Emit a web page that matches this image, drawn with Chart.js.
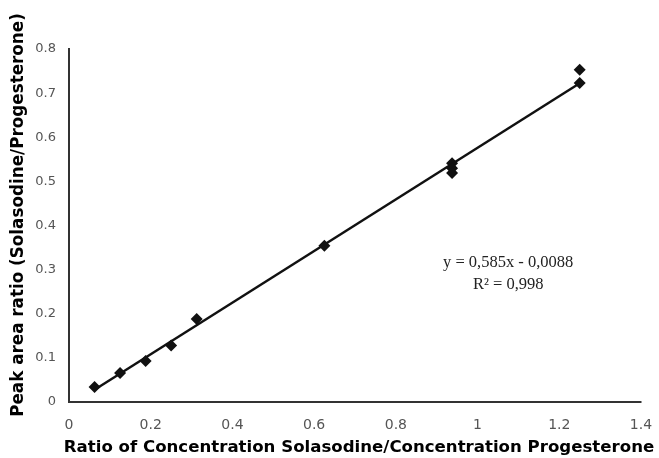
<!DOCTYPE html>
<html>
<head>
<meta charset="utf-8">
<script src="https://cdn.jsdelivr.net/npm/chart.js@4/dist/chart.umd.min.js"></script>
<style>
html,body{margin:0;padding:0;background:#fff;}
#wrap{width:659px;height:458px;position:relative;}
</style>
</head>
<body>
<div id="wrap"><canvas id="c"></canvas></div>
<script>
const concRatio = [0.0625, 0.125, 0.1875, 0.25, 0.3125, 0.625, 0.9375, 0.9375, 0.9375, 1.25, 1.25];
const peakRatio = [0.034, 0.066, 0.093, 0.128, 0.188, 0.354, 0.541, 0.530, 0.519, 0.753, 0.723];
const slope = 0.585;
const intercept = -0.0088;
const fitX = [0.0625, 1.25];
const xTicks = [0, 0.2, 0.4, 0.6, 0.8, 1, 1.2, 1.4];
const yTicks = [0, 0.1, 0.2, 0.3, 0.4, 0.5, 0.6, 0.7, 0.8];
const eqLines = ["y = 0,585x - 0,0088", "R² = 0,998"];
const xTitle = "Ratio of Concentration Solasodine/Concentration Progesterone";
const yTitle = "Peak area ratio (Solasodine/Progesterone)";

const points = concRatio.map((x, i) => ({x: x, y: peakRatio[i]}));
const fitLine = fitX.map(x => ({x: x, y: slope * x + intercept}));

const annot = {
  id: 'annot',
  afterDatasetsDraw(chart) {
    const ctx = chart.ctx;
    const xs = chart.scales.x, ys = chart.scales.y;
    const cx = xs.getPixelForValue(1.075);
    const cy = ys.getPixelForValue(0.316);
    ctx.save();
    ctx.fillStyle = '#222';
    ctx.font = '16.5px "Liberation Serif", "DejaVu Serif", serif';
    ctx.textAlign = 'center';
    ctx.textBaseline = 'middle';
    ctx.fillText(eqLines[0], cx, cy);
    ctx.fillText(eqLines[1], cx, cy + 22);
    ctx.restore();
  }
};

const axisTitles = {
  id: 'axisTitles',
  afterDraw(chart) {
    const ctx = chart.ctx;
    ctx.save();
    ctx.fillStyle = '#000';
    ctx.textAlign = 'center';
    ctx.textBaseline = 'middle';
    ctx.font = 'bold 16.6px "DejaVu Sans", sans-serif';
    ctx.fillText(xTitle, 359, 448);
    ctx.translate(19, 215);
    ctx.rotate(-Math.PI / 2);
    ctx.font = 'bold 16.8px "DejaVu Sans", sans-serif';
    ctx.fillText(yTitle, 0, 0);
    ctx.restore();
  }
};

new Chart(document.getElementById('c'), {
  type: 'scatter',
  data: {
    datasets: [
      {
        data: points,
        pointStyle: 'rectRot',
        pointRadius: 6,
        backgroundColor: '#111',
        borderColor: '#111',
        borderWidth: 0,
        order: 1
      },
      {
        type: 'line',
        data: fitLine,
        borderColor: '#111',
        borderWidth: 2.5,
        pointRadius: 0,
        fill: false,
        order: 2
      }
    ]
  },
  options: {
    responsive: true,
    maintainAspectRatio: false,
    animation: false,
    devicePixelRatio: 1,
    layout: { padding: { top: 49, right: 18, bottom: 0, left: 0 } },
    plugins: { legend: { display: false }, tooltip: { enabled: false } },
    scales: {
      x: {
        type: 'linear',
        min: 0, max: 1.4,
        afterBuildTicks(s) { s.ticks = xTicks.map(v => ({value: v})); },
        afterFit(s) { s.height = 56; s.paddingRight = Math.min(s.paddingRight, 12); },
        grid: { display: false, drawOnChartArea: false, drawTicks: true, tickLength: 5, color: '#333', lineWidth: 1.5 },
        border: { display: true, color: '#333', width: 2 },
        ticks: {
          color: '#555',
          font: { family: '"DejaVu Sans", sans-serif', size: 14 },
          padding: 10,
          maxRotation: 0,
          callback: v => String(v)
        },
        title: { display: false }
      },
      y: {
        type: 'linear',
        min: 0, max: 0.8,
        afterBuildTicks(s) { s.ticks = yTicks.map(v => ({value: v})); },
        afterFit(s) { s.width = 69; },
        grid: { display: false, drawOnChartArea: false, drawTicks: true, tickLength: 5, color: '#333', lineWidth: 1.5 },
        border: { display: true, color: '#333', width: 2 },
        ticks: {
          color: '#555',
          font: { family: '"DejaVu Sans", sans-serif', size: 13 },
          padding: 8,
          callback: v => String(v)
        },
        title: { display: false }
      }
    }
  },
  plugins: [annot, axisTitles]
});
</script>
</body>
</html>
